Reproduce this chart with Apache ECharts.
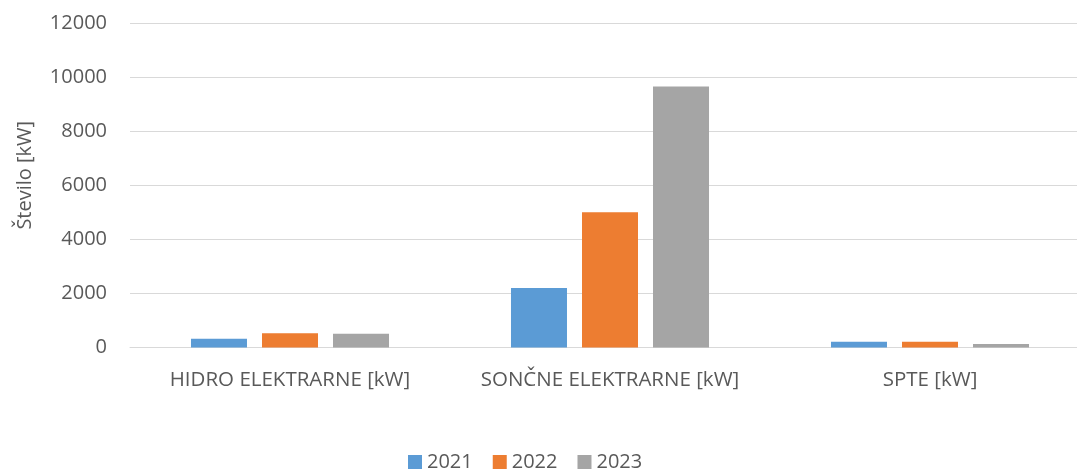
<!DOCTYPE html>
<html>
<head>
<meta charset="utf-8">
<script src="https://cdn.jsdelivr.net/npm/echarts@6/dist/echarts.min.js"></script>
<style>
  html, body { margin: 0; padding: 0; background: #ffffff; overflow: hidden; width: 1077px; height: 470px; }
  #chart { width: 1090px; height: 470px; }
</style>
</head>
<body>
<div id="chart"></div>
<script>
// Installed capacity by plant type and year
const categories = ['HIDRO ELEKTRARNE [kW]', 'SONČNE ELEKTRARNE [kW]', 'SPTE [kW]'];
const years = ['2021', '2022', '2023'];
const values2021 = [320, 2200, 210];
const values2022 = [530, 5000, 210];
const values2023 = [505, 9650, 125];
const yTicks = [0, 2000, 4000, 6000, 8000, 10000, 12000];

const colors = ['#5B9BD5', '#ED7D31', '#A5A5A5'];
const textColor = '#595959';
const fontFamily = '"Open Sans", "Liberation Sans", sans-serif';

const seriesValues = [values2021, values2022, values2023];

const chart = echarts.init(document.getElementById('chart'));
chart.setOption({
  animation: false,
  color: colors,
  textStyle: { fontFamily: fontFamily, color: textColor },
  grid: { left: 130, top: 23, right: 0, height: 324.5, containLabel: false },
  legend: {
    data: years,
    bottom: -7,
    left: 403,
    itemWidth: 14,
    itemHeight: 14,
    itemGap: 20,
    icon: 'rect',
    textStyle: { fontSize: 20, color: textColor, fontFamily: fontFamily }
  },
  xAxis: {
    type: 'category',
    data: categories,
    axisTick: { show: false },
    axisLine: { lineStyle: { color: '#D9D9D9', width: 1 } },
    axisLabel: { fontSize: 20.5, color: textColor, margin: 22, interval: 0 }
  },
  yAxis: {
    type: 'value',
    min: yTicks[0],
    max: yTicks[yTicks.length - 1],
    interval: 2000,
    name: 'Število [kW]',
    nameLocation: 'middle',
    nameGap: 95,
    nameTextStyle: { fontSize: 20, color: textColor, padding: [0, 0, 0, 20] },
    axisLine: { show: false },
    axisTick: { show: false },
    axisLabel: {
      fontSize: 20,
      color: textColor,
      margin: 23,
      formatter: v => String(v)
    },
    splitLine: { lineStyle: { color: '#D9D9D9', width: 1 } }
  },
  series: years.map((y, i) => ({
    name: y,
    type: 'bar',
    data: seriesValues[i],
    barWidth: 56,
    barGap: '26.8%'
  }))
});
</script>
</body>
</html>
